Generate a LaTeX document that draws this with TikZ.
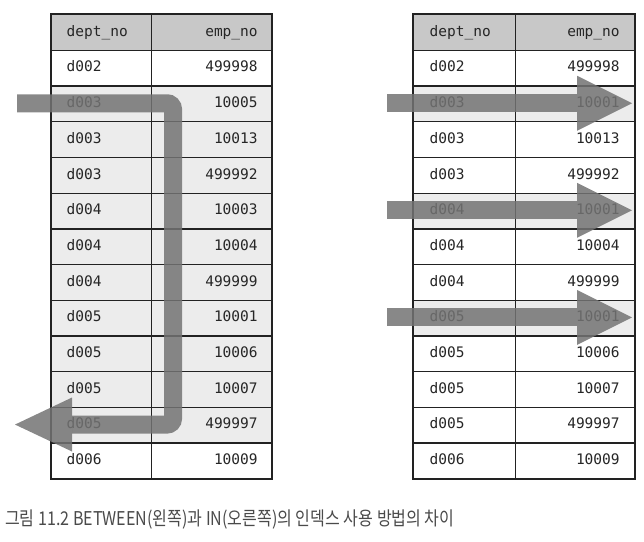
\documentclass[tikz,border=0pt]{standalone}
\usepackage{fontspec}
\setmonofont{DejaVu Sans Mono}
\newfontfamily\krfont{Noto Sans CJK KR}
\definecolor{linec}{HTML}{222222}
\definecolor{headg}{HTML}{C8C8C8}
\definecolor{rowg}{HTML}{ECECEC}
\definecolor{arrowc}{HTML}{737373}
\definecolor{capc}{HTML}{4A4A4A}
\begin{document}
\begin{tikzpicture}[x=1pt,y=-1pt,
  cell/.style={draw=linec, line width=1.3pt, inner ysep=0pt, minimum height=35.7pt,
    text height=11pt, text depth=3.5pt,
    font=\ttfamily\fontsize{14.5}{15}\selectfont, text=black!85, anchor=north west},
  ldept/.style={cell, inner xsep=15pt, text width=70pt, align=left},
  lemp/.style={cell, inner xsep=14pt, text width=92pt, align=right},
  rdept/.style={cell, inner xsep=16pt, text width=70pt, align=left},
  remp/.style={cell, inner xsep=15pt, text width=89pt, align=right},
  bar/.style={draw=arrowc, line width=18pt, draw opacity=0.85},
  head/.style={fill=arrowc, fill opacity=0.85},
  caption/.style={font=\krfont\fontsize{19}{19}\selectfont, text=capc, anchor=west, inner sep=0pt}]
\useasboundingbox (0,0) rectangle (644,541);
% left table
\node[ldept, fill=headg] (La0) at (51,14) {dept\_no};
\node[lemp, fill=headg] (Lb0) at (151,14) {emp\_no};
\foreach [count=\i] \d/\e/\c in {d002/499998/white, d003/10005/rowg, d003/10013/rowg,
  d003/499992/rowg, d004/10003/rowg, d004/10004/rowg, d004/499999/rowg, d005/10001/rowg,
  d005/10006/rowg, d005/10007/rowg, d005/499997/rowg, d006/10009/white} {
  \node[ldept, fill=\c] (La\i) at (51,{14+35.7*\i}) {\d};
  \node[lemp, fill=\c] (Lb\i) at (151,{14+35.7*\i}) {\e};
}
\draw[linec, line width=1.8pt] (La0.north west) rectangle (Lb12.south east);
% right table
\node[rdept, fill=headg] (Ra0) at (413,14) {dept\_no};
\node[remp, fill=headg] (Rb0) at (515,14) {emp\_no};
\foreach [count=\i] \d/\e/\c in {d002/499998/white, d003/10001/rowg, d003/10013/white,
  d003/499992/white, d004/10001/rowg, d004/10004/white, d004/499999/white, d005/10001/rowg,
  d005/10006/white, d005/10007/white, d005/499997/white, d006/10009/white} {
  \node[rdept, fill=\c] (Ra\i) at (413,{14+35.7*\i}) {\d};
  \node[remp, fill=\c] (Rb\i) at (515,{14+35.7*\i}) {\e};
}
\draw[linec, line width=1.8pt] (Ra0.north west) rectangle (Rb12.south east);
% left arrow (BETWEEN)
\coordinate (ls) at (17,103.25);
\coordinate (lc1) at (173,103.25);
\coordinate (lc2) at (173,424.55);
\coordinate (lb) at (72,424.55);
\draw[bar, rounded corners=6pt] (ls) -- (lc1) -- (lc2) -- (lb);
\fill[head] (72,397.5) -- (15,424.55) -- (72,451.5) -- cycle;
% right arrows (IN)
\foreach \y in {103.25, 210.35, 317.45} {
  \draw[bar] (387,\y) -- (577,\y);
  \fill[head] (577,\y-27.5) -- (632,\y) -- (577,\y+27.5) -- cycle;
}
\node[caption] (cap) at (5,519) {\scalebox{0.845}[1]{그림 11.2 BETWEEN(왼쪽)과 IN(오른쪽)의 인덱스 사용 방법의 차이}};
\end{tikzpicture}
\end{document}
